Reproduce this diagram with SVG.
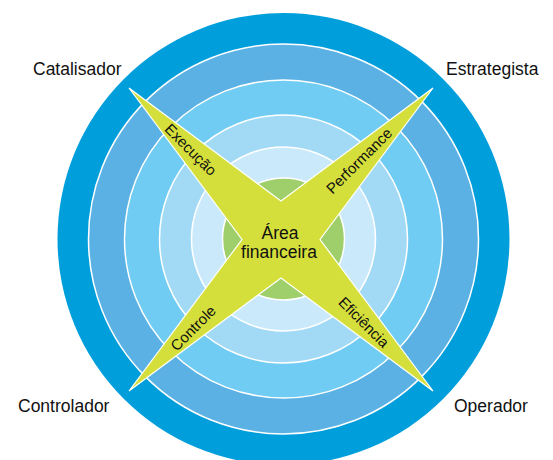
<svg xmlns="http://www.w3.org/2000/svg" width="553" height="460" viewBox="0 0 553 460">
<style>
.ring{stroke:#fff;stroke-width:1.5}
.lbl{font-family:"Liberation Sans",Arial,sans-serif;font-size:17.5px;fill:#111}
.arm{font-family:"Liberation Sans",Arial,sans-serif;font-size:15px;fill:#111;text-anchor:middle;dominant-baseline:central}
</style>
<rect width="553" height="460" fill="#fff"/>
<g id="rings">
<circle cx="283.5" cy="239" r="226" fill="#009fdc"/>
<circle class="ring" cx="283.5" cy="239" r="195" fill="#5bb1e3"/>
<circle class="ring" cx="283.5" cy="239" r="159" fill="#70ccf2"/>
<circle class="ring" cx="283.5" cy="239" r="124" fill="#a2daf6"/>
<circle class="ring" cx="283.5" cy="239" r="92" fill="#caeafb"/>
<circle class="ring" cx="283.5" cy="239" r="61" fill="#9fcf6a"/>
</g>
<g id="star">
<polygon points="129,88 281,201 433,88 320,239.5 433,391 281,278 129,391 242,239.5" fill="#d5df3b" stroke="#fff" stroke-width="1.2" stroke-linejoin="miter"/>
<text class="arm" transform="translate(191,149.5) rotate(45)">Execução</text>
<text class="arm" transform="translate(359,160.5) rotate(-45)">Performance</text>
<text class="arm" transform="translate(193,328) rotate(-45)">Controle</text>
<text class="arm" transform="translate(364,322) rotate(45)">Eficiência</text>
</g>
<g id="center">
<text class="lbl" x="280" y="239" text-anchor="middle">Área</text>
<text class="lbl" x="279" y="258" text-anchor="middle">financeira</text>
</g>
<g id="catalisador"><text class="lbl" x="33" y="75">Catalisador</text></g>
<g id="estrategista"><text class="lbl" x="446" y="75">Estrategista</text></g>
<g id="controlador"><text class="lbl" x="18" y="412">Controlador</text></g>
<g id="operador"><text class="lbl" x="454" y="412">Operador</text></g>
<g id="connectors"></g>
</svg>
